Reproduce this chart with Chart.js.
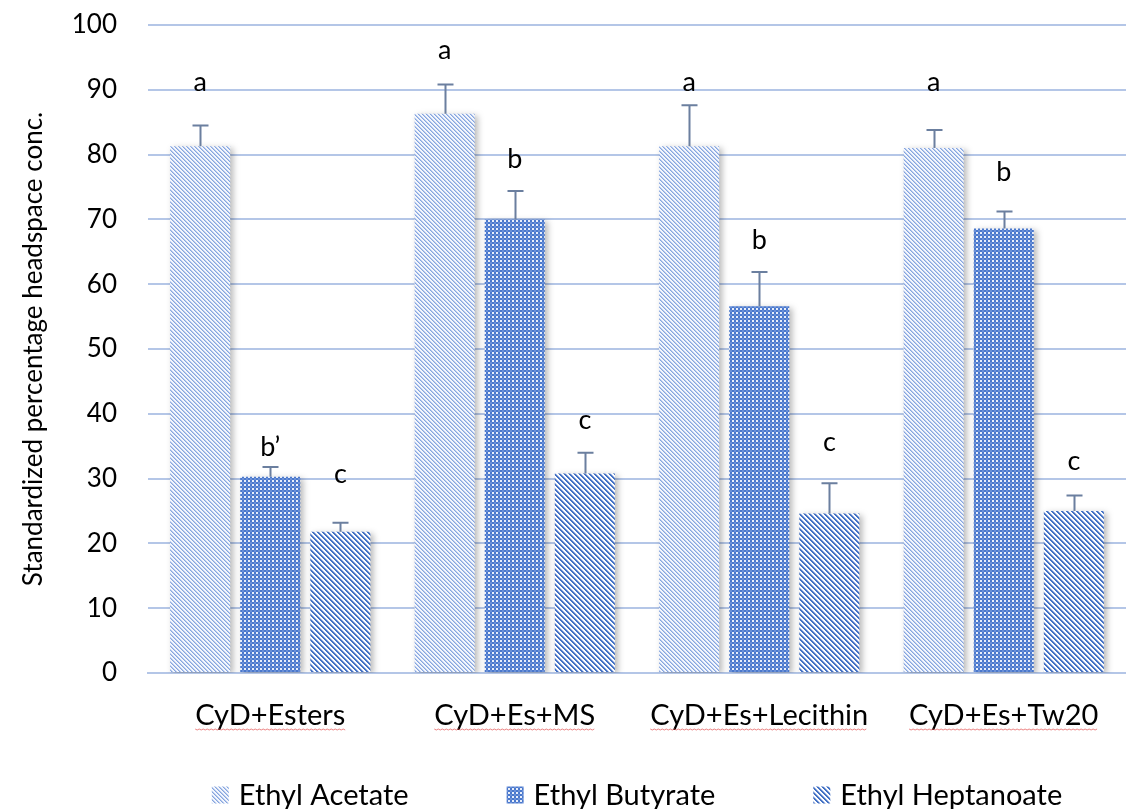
<!DOCTYPE html>
<html>
<head>
<meta charset="utf-8">
<script src="https://cdn.jsdelivr.net/npm/chart.js@4.4.1/dist/chart.umd.min.js"></script>
<style>
  html, body { margin: 0; padding: 0; background: #ffffff; }
  #wrap { width: 1126px; height: 809px; }
</style>
</head>
<body>
<div id="wrap"><canvas id="chart" width="1126" height="809"></canvas></div>
<script>
// Treatments (x categories)
const categories = ['CyD+Esters', 'CyD+Es+MS', 'CyD+Es+Lecithin', 'CyD+Es+Tw20'];

// Series names
const seriesNames = ['Ethyl Acetate', 'Ethyl Butyrate', 'Ethyl Heptanoate'];

// Mean standardized headspace concentration (%)
const ethylAcetate    = [81.3, 86.3, 81.3, 81.0];
const ethylButyrate   = [30.3, 70.0, 56.6, 68.6];
const ethylHeptanoate = [21.8, 30.8, 24.6, 25.0];

// Standard deviations (upper error bars)
const ethylAcetateSD    = [3.2, 4.5, 6.3, 2.8];
const ethylButyrateSD   = [1.5, 4.4, 5.3, 2.6];
const ethylHeptanoateSD = [1.4, 3.2, 4.7, 2.4];

// Significance letters and the value level where each letter sits
const acetateLetters    = ['a', 'a', 'a', 'a'];
const butyrateLetters   = ['b\u2019', 'b', 'b', 'b'];
const heptanoateLetters = ['c', 'c', 'c', 'c'];
const acetateLetterAt    = [91.2, 96.1, 91.2, 91.2];
const butyrateLetterAt   = [34.9, 79.2, 66.7, 77.3];
const heptanoateLetterAt = [30.6, 39.0, 35.6, 32.6];

// Y axis ticks
const yMin = 0, yMax = 100, yStep = 10;

const FONT = 'Lato, "Open Sans", sans-serif';

// ---- fill patterns ----
function makePattern(size, painter) {
  const c = document.createElement('canvas');
  c.width = size; c.height = size;
  const g = c.getContext('2d');
  g.fillStyle = '#ffffff';
  g.fillRect(0, 0, size, size);
  for (let y = 0; y < size; y++) {
    for (let x = 0; x < size; x++) {
      const col = painter(x, y);
      if (col) { g.fillStyle = col; g.fillRect(x, y, 1, 1); }
    }
  }
  return g.createPattern(c, 'repeat');
}
// light dotted downward diagonal
const patAcetate = makePattern(8, (x, y) => {
  const d = ((x - y) % 4 + 4) % 4;
  if (d === 0) return '#86a5de';
  if (d === 1) return '#b9cbee';
  return '#f4f7fd';
});
// dense grid of small squares
const patButyrate = makePattern(4, (x, y) => {
  if (x < 2 && y < 2) return '#e8eefa';
  if (x >= 2 && y >= 2) return '#6a90d8';
  return '#4a78cc';
});
// wide downward diagonal stripes
const patHeptanoate = makePattern(5, (x, y) => {
  const d = ((x - y) % 5 + 5) % 5;
  if (d < 2) return '#4472c4';
  if (d === 2) return '#a9bde6';
  return null;
});

const sdSets = [ethylAcetateSD, ethylButyrateSD, ethylHeptanoateSD];
const letterSets = [acetateLetters, butyrateLetters, heptanoateLetters];
const letterAtSets = [acetateLetterAt, butyrateLetterAt, heptanoateLetterAt];

// Bar shadows, error bars, letters, legend
const decorPlugin = {
  id: 'decor',
  beforeDatasetsDraw(chart) {
    const ctx = chart.ctx;
    ctx.save();
    ctx.shadowColor = 'rgba(0,0,0,0.28)';
    ctx.shadowBlur = 6;
    ctx.shadowOffsetX = 3;
    ctx.shadowOffsetY = 2;
  },
  afterDatasetsDraw(chart) {
    const ctx = chart.ctx;
    ctx.restore();
    const ys = chart.scales.y;
    // error bars
    ctx.save();
    ctx.strokeStyle = '#6b7f9f';
    ctx.lineWidth = 2;
    chart.data.datasets.forEach((ds, di) => {
      const meta = chart.getDatasetMeta(di);
      meta.data.forEach((bar, i) => {
        const top = ys.getPixelForValue(ds.data[i] + sdSets[di][i]);
        const base = ys.getPixelForValue(ds.data[i]);
        const x = Math.round(bar.x) + 0.5;
        ctx.beginPath();
        ctx.moveTo(x, base);
        ctx.lineTo(x, top);
        ctx.moveTo(x - 8, top);
        ctx.lineTo(x + 8, top);
        ctx.stroke();
      });
    });
    ctx.restore();
    // significance letters
    ctx.save();
    ctx.fillStyle = '#000000';
    ctx.font = '27px ' + FONT;
    ctx.textAlign = 'center';
    ctx.textBaseline = 'middle';
    chart.data.datasets.forEach((ds, di) => {
      const meta = chart.getDatasetMeta(di);
      meta.data.forEach((bar, i) => {
        ctx.fillText(letterSets[di][i], bar.x, ys.getPixelForValue(letterAtSets[di][i]));
      });
    });
    ctx.restore();
  },
  afterDraw(chart) {
    const ctx = chart.ctx;
    const xs = chart.scales.x;
    const area = chart.chartArea;
    // wavy proofing underline beneath category labels
    ctx.save();
    ctx.font = '29px ' + FONT;
    ctx.strokeStyle = 'rgba(228,90,90,0.75)';
    ctx.lineWidth = 1;
    categories.forEach((c, i) => {
      const w = ctx.measureText(c).width;
      const cx = xs.getPixelForTick(i);
      const y0 = 729;
      ctx.beginPath();
      for (let x = cx - w / 2, k = 0; x <= cx + w / 2; x += 2, k++) {
        const y = y0 + (k % 2 ? 1 : 0);
        if (k === 0) ctx.moveTo(x, y); else ctx.lineTo(x, y);
      }
      ctx.stroke();
    });
    ctx.restore();
    // legend centred under the plot area
    ctx.save();
    ctx.font = '29px ' + FONT;
    ctx.textBaseline = 'middle';
    ctx.fillStyle = '#000000';
    const box = 17, gapText = 10, gapItem = 98;
    const items = chart.data.datasets.map(ds => ({ label: ds.label, fill: ds.backgroundColor, w: box + gapText + ctx.measureText(ds.label).width }));
    const total = items.reduce((s, it) => s + it.w, 0) + gapItem * (items.length - 1);
    let x = (area.left + area.right) / 2 - total / 2;
    const cy = 795;
    items.forEach(it => {
      ctx.fillStyle = it.fill;
      ctx.fillRect(x, cy - box / 2, box, box);
      ctx.fillStyle = '#000000';
      ctx.fillText(it.label, x + box + gapText, cy + 1);
      x += it.w + gapItem;
    });
    ctx.restore();
  }
};

const seriesValues = [ethylAcetate, ethylButyrate, ethylHeptanoate];
const seriesFills = [patAcetate, patButyrate, patHeptanoate];

new Chart(document.getElementById('chart'), {
  type: 'bar',
  data: {
    labels: categories,
    datasets: seriesNames.map((name, i) => ({
      label: name,
      data: seriesValues[i],
      backgroundColor: seriesFills[i],
      borderWidth: 0,
      categoryPercentage: 0.86,
      barPercentage: 0.857
    }))
  },
  options: {
    responsive: false,
    animation: false,
    devicePixelRatio: 1,
    layout: { padding: { top: 25, right: 0, bottom: 0, left: 0 } },
    plugins: {
      legend: { display: false },
      tooltip: { enabled: false }
    },
    scales: {
      x: {
        grid: { display: false, drawTicks: false },
        border: { display: true, color: '#b4c6e7', width: 2 },
        ticks: { color: '#000000', font: { family: FONT, size: 29 }, padding: 25, maxRotation: 0, autoSkip: false },
        afterFit(scale) { scale.height = 136; scale.paddingTop = 0; scale.paddingBottom = 0; }
      },
      y: {
        min: yMin, max: yMax,
        grid: { color: '#b4c6e7', lineWidth: 2, drawTicks: false },
        border: { display: false },
        ticks: { stepSize: yStep, color: '#000000', font: { family: FONT, size: 26 }, padding: 31 },
        title: {
          display: true,
          text: 'Standardized percentage headspace conc.',
          color: '#000000',
          font: { family: FONT, size: 26 },
          padding: { top: 18, bottom: 0 }
        },
        afterFit(scale) { scale.width = 148; scale.paddingTop = 0; scale.paddingBottom = 0; }
      }
    }
  },
  plugins: [decorPlugin]
});
</script>
</body>
</html>
